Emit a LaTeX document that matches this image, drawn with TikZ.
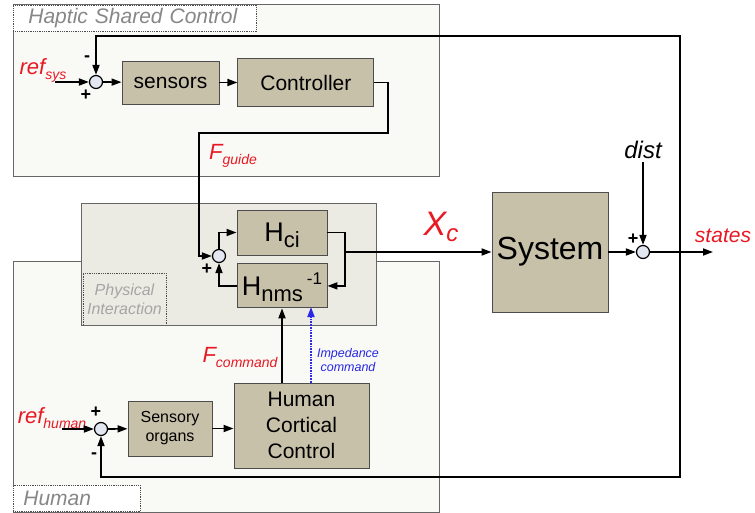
\documentclass[tikz,border=0pt]{standalone}
\usepackage{fontspec}
\setmainfont{Liberation Sans}
\usepackage{xcolor}
\usetikzlibrary{arrows.meta,positioning}
\definecolor{blockfill}{RGB}{200,193,170}
\definecolor{panelfill}{RGB}{249,249,246}
\definecolor{physfill}{RGB}{236,235,227}
\definecolor{sumfill}{RGB}{226,231,242}
\definecolor{sigred}{RGB}{232,25,35}
\definecolor{impblue}{RGB}{40,40,230}
\definecolor{tabgray}{RGB}{135,135,135}
\definecolor{physgray}{RGB}{165,165,165}
\newcommand{\fsz}[2]{\fontsize{#1}{#2}\selectfont}
\newcommand{\sigsub}[2]{#1{\fsz{14}{16}\raisebox{-5pt}[0pt][0pt]{#2}}}

\begin{document}
\begin{tikzpicture}[x=1pt,y=-1pt,
    panel/.style={draw=black!60,line width=1pt,fill=panelfill},
    tab/.style={draw=black!70,densely dotted,line width=0.8pt,fill=white,
      anchor=north west,align=left,inner ysep=0pt,minimum height=26pt,
      font=\fsz{21}{24}\itshape,text=tabgray},
    block/.style={draw=black!70,line width=0.9pt,fill=blockfill,inner sep=0pt,align=center},
    sum/.style={circle,draw=black,line width=1.2pt,fill=sumfill,minimum size=13pt,inner sep=0pt},
    flow/.style={-{Triangle[length=10pt,width=7pt]},line width=1.7pt},
    sig/.style={text=sigred,font=\fsz{22}{24}\itshape,inner sep=0pt},
    sign/.style={font=\fsz{18}{18}\bfseries,inner sep=0pt}
  ]
  \useasboundingbox (0,0) rectangle (755,513);
  \path[panel] (13,261) rectangle (439,512);
  \path[panel] (13,5) rectangle (439,177);
  \path[panel,fill=physfill] (81,204) rectangle (376,325);
  \draw[black!70,densely dotted,line width=0.8pt] (83,325) |- (166,273) -- (166,325);
  \node[tab,text width=213pt,inner xsep=15pt] (hsctab) at (13,5) {Haptic Shared Control};
  \node[tab,text width=107pt,inner xsep=10pt,anchor=south west] (humtab) at (13,512) {Human};
  \node[font=\fsz{16}{19}\itshape,text=physgray,align=center] (phystxt) at (124.5,299) {Physical\\Interaction};

  \node[sum] (sumsys) at (96,82) {};
  \node[block,minimum width=97pt,minimum height=43pt,font=\fsz{21}{25}] (sens) at (170.5,82.5) {sensors};
  \node[block,minimum width=136pt,minimum height=48pt,font=\fsz{21}{25},right=18pt of sens] (ctrl) {Controller};
  \node[block,minimum width=90pt,minimum height=45pt] (hci) at (282,232.5)
    {\fsz{27}{30}H\raisebox{-6pt}[0pt][0pt]{\fsz{22}{24}ci}};
  \node[block,minimum width=90pt,minimum height=44pt,below=8pt of hci] (hnms)
    {\fsz{27}{30}H\raisebox{-6pt}[0pt][0pt]{\fsz{22}{24}nms}\hspace{4pt}\raisebox{11pt}[0pt][0pt]{\fsz{17}{18}-1}};
  \node[sum] (sumint) at (219,256) {};
  \node[block,minimum width=116pt,minimum height=120pt,font=\fsz{32}{36}] (sys) at (550,252) {System};
  \node[sum] (sumdist) at (643,252) {};
  \node[sum] (sumhum) at (101,429) {};
  \node[block,minimum width=84pt,minimum height=55pt,font=\fsz{16}{19}] (organs) at (170,428.5) {Sensory\\organs};
  \node[block,minimum width=135pt,minimum height=85pt,font=\fsz{21}{26}] (cortex) at (301.5,425.5) {Human\\Cortical\\Control};

  \node[sig] (refsys) at (43,67) {\sigsub{ref}{sys}};
  \node[sig] (fguide) at (233,152) {\sigsub{F}{guide}};
  \node[sig,font=\fsz{34}{36}\itshape] (xc) at (441,224) {X\raisebox{-6pt}[0pt][0pt]{\fsz{24}{26}c}};
  \node[font=\fsz{24}{26}\itshape] (dist) at (643,150) {dist};
  \node[sig,font=\fsz{21}{24}\itshape] (states) at (723,236) {states};
  \node[sig] (fcmd) at (240,355) {\sigsub{F}{command}};
  \node[text=impblue,font=\fsz{12.5}{14}\itshape,align=center] (imptxt) at (348,360) {Impedance\\command};
  \node[sig] (refhum) at (52,416) {\sigsub{ref}{human}};

  \node[sign] (s1m) at (87,59) {-};
  \node[sign] (s1p) at (86,95) {+};
  \node[sign] (s3p) at (207,269) {+};
  \node[sign] (s2p) at (96,412) {+};
  \node[sign] (s2m) at (94,456) {-};
  \node[sign] (s4p) at (633,239) {+};

  \coordinate (refsysin) at (55,82);
  \coordinate (refhumin) at (62,429);
  \coordinate (gtop) at (388,133);
  \coordinate (gleft) at (199,133);
  \coordinate (hsplit) at (345,252);
  \coordinate (fb) at (680,252);
  \coordinate (fbtop) at (96,36);
  \coordinate (fbbot) at (101,477);
  \coordinate (out) at (713,252);
  \coordinate (impx) at (311,307);

  \draw[flow] (refsysin) -- (sumsys);
  \draw[flow] (sumsys) -- (sens);
  \draw[flow] (sens) -- (ctrl);
  \draw[flow] (ctrl.east) -| (gtop) -- (gleft) |- (sumint.west);
  \draw[flow] (sumint.north) |- (hci.west);
  \draw[flow] (hci.east) -| (hsplit) |- (hnms.east);
  \draw[flow] (hnms.west) -| (sumint.south);
  \draw[flow] (hsplit) -- (sys);
  \draw[flow] (sys) -- (sumdist);
  \draw[flow] (dist) -- (sumdist);
  \draw[flow] (sumdist) -- (out);
  \draw[flow] (fb) |- (fbtop) -- (sumsys);
  \draw[flow] (fb) |- (fbbot) -- (sumhum);
  \draw[flow] (refhumin) -- (sumhum);
  \draw[flow] (sumhum) -- (organs);
  \draw[flow] (organs.east) -- (organs.east -| cortex.west);
  \draw[flow] (cortex.north -| hnms.south) -- (hnms.south);
  \draw[flow,impblue,densely dotted] (impx |- cortex.north) -- (impx);
\end{tikzpicture}
\end{document}
